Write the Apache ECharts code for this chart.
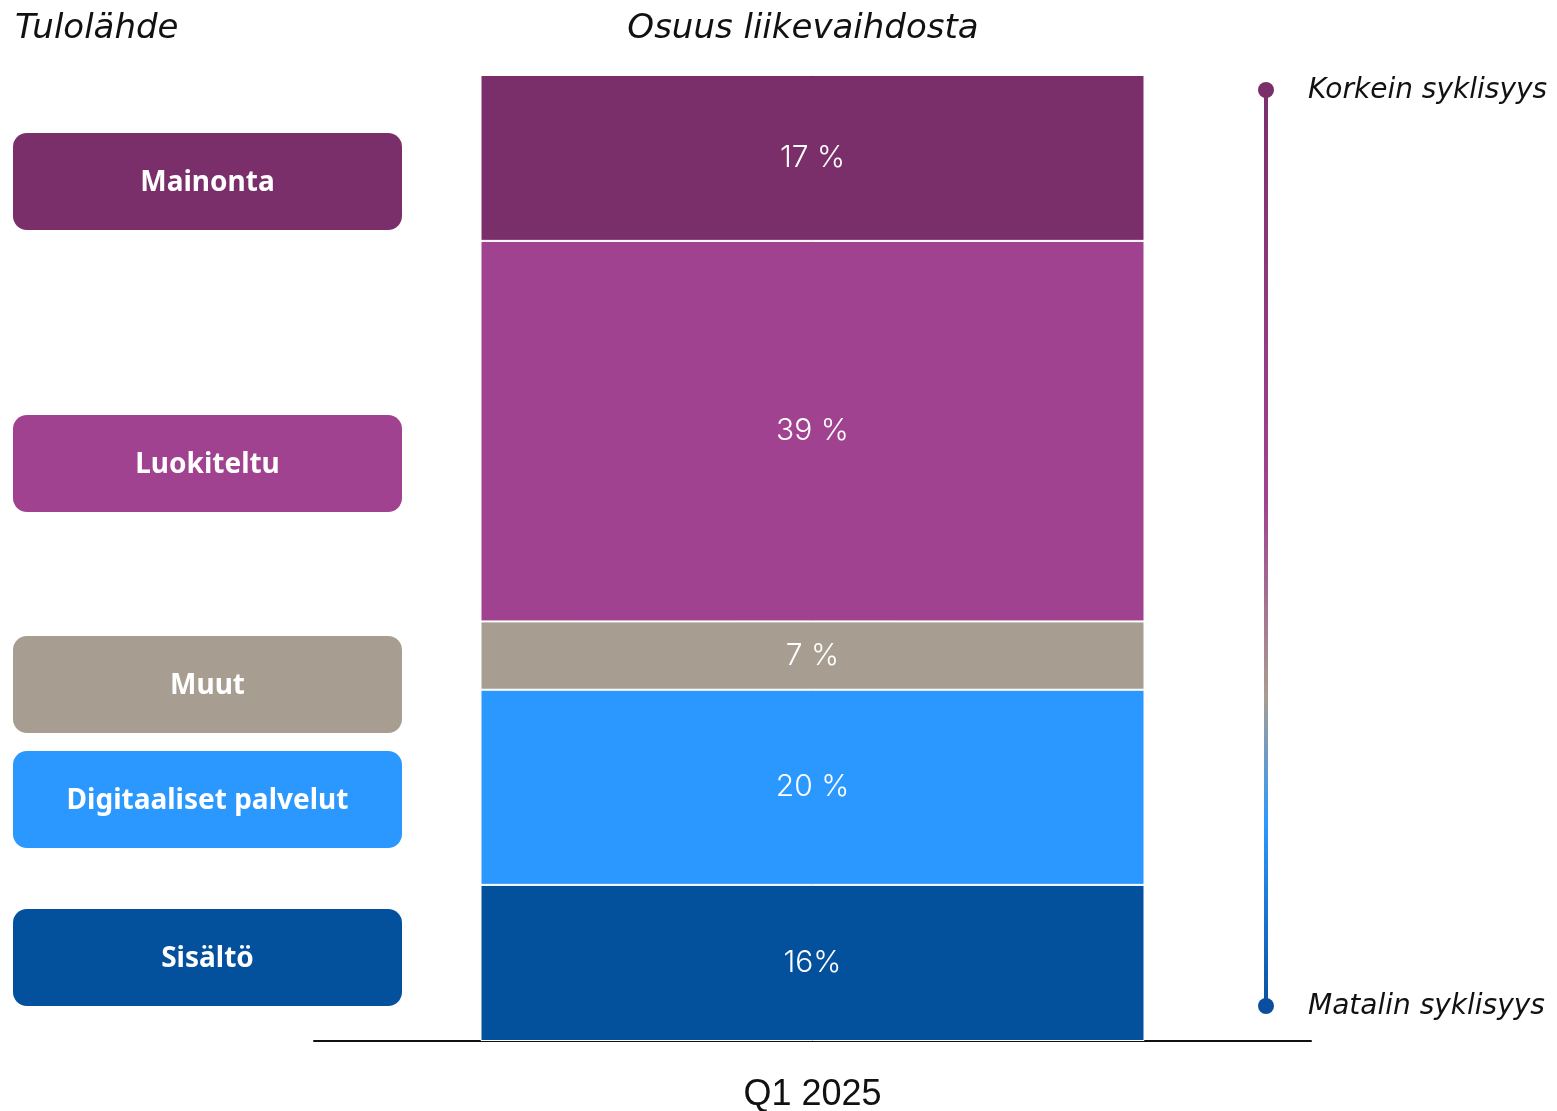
<!DOCTYPE html>
<html>
<head>
<meta charset="utf-8">
<script src="https://cdn.jsdelivr.net/npm/echarts@6/dist/echarts.min.js"></script>
<style>
  html, body { margin: 0; padding: 0; background: #fff; }
  #chart { width: 1557px; height: 1111px; }
</style>
</head>
<body>
<div id="chart"></div>
<script>
// Revenue sources, bottom of the stack first
const sources = ['Sisältö', 'Digitaaliset palvelut', 'Muut', 'Luokiteltu', 'Mainonta'];
const shares = [16, 20, 7, 39, 17];
const shareLabels = ['16%', '20 %', '7 %', '39 %', '17 %'];
const colors = ['#03509c', '#2b98ff', '#a89d91', '#a04290', '#7a2f6b'];
const periods = ['Q1 2025'];

const chart = echarts.init(document.getElementById('chart'));

const total = shares.reduce((a, b) => a + b, 0);

const series = sources.map((name, i) => ({
  name: name,
  type: 'bar',
  stack: 'share',
  barWidth: 664,
  data: [shares[i]],
  itemStyle: { color: colors[i], borderColor: '#ffffff', borderWidth: 1 },
  label: {
    show: true,
    position: 'inside',
    formatter: () => shareLabels[i],
    color: '#ffffff',
    fontFamily: 'Inter',
    fontWeight: 300,
    fontSize: 30
  }
}));

// Source badges on the left (top to bottom)
const badges = [
  { idx: 4, top: 133 },
  { idx: 3, top: 415 },
  { idx: 2, top: 636 },
  { idx: 1, top: 751 },
  { idx: 0, top: 909 }
];
const badgeGraphics = badges.map(b => ({
  type: 'rect',
  left: 13,
  top: b.top,
  shape: { width: 389, height: 97, r: 14 },
  style: { fill: colors[b.idx] },
  textContent: {
    style: {
      text: sources[b.idx],
      fill: '#ffffff',
      fontFamily: 'Noto Sans',
      fontWeight: 'bold',
      fontSize: 28
    }
  },
  textConfig: { position: 'inside', offset: [0, 2] }
}));

// Cyclicality scale on the right
const scaleX = 1266, scaleTop = 90, scaleBottom = 1006;
const italic = { fill: '#111', fontFamily: 'DejaVu Sans', fontStyle: 'italic', fontWeight: 'normal' };
const scaleGraphics = [
  {
    type: 'line',
    shape: { x1: scaleX, y1: scaleTop, x2: scaleX, y2: scaleBottom },
    style: {
      lineWidth: 4,
      stroke: new echarts.graphic.LinearGradient(0, 0, 0, 1, [
        { offset: 0, color: '#7a2f6b' },
        { offset: 0.45, color: '#a04290' },
        { offset: 0.66, color: '#a89d91' },
        { offset: 0.8, color: '#2b98ff' },
        { offset: 1, color: '#0a4f9e' }
      ], false)
    }
  },
  { type: 'circle', shape: { cx: scaleX, cy: scaleTop, r: 8 }, style: { fill: '#7a2f6b' } },
  { type: 'circle', shape: { cx: scaleX, cy: scaleBottom, r: 8 }, style: { fill: '#0a4f9e' } },
  {
    type: 'text', x: 1308, y: scaleTop + 1,
    style: Object.assign({ text: 'Korkein syklisyys', fontSize: 28, verticalAlign: 'middle' }, italic)
  },
  {
    type: 'text', x: 1308, y: scaleBottom + 1,
    style: Object.assign({ text: 'Matalin syklisyys', fontSize: 28, verticalAlign: 'middle' }, italic)
  },
  {
    type: 'text', x: 15, y: 29,
    style: Object.assign({ text: 'Tulolähde', fontSize: 34, verticalAlign: 'middle' }, italic)
  },
  {
    type: 'text', x: 803, y: 29,
    style: Object.assign({ text: 'Osuus liikevaihdosta', fontSize: 34, verticalAlign: 'middle', align: 'center' }, italic)
  }
];

chart.setOption({
  animation: false,
  grid: { left: 314, right: 246, top: 75, bottom: 70, outerBoundsMode: 'none', containLabel: false },
  xAxis: {
    type: 'category',
    data: periods,
    axisLine: { lineStyle: { color: '#111', width: 2 } },
    axisTick: { show: false },
    axisLabel: { color: '#111', fontFamily: 'Liberation Sans', fontSize: 36, margin: 36 }
  },
  yAxis: {
    type: 'value',
    min: 0,
    max: total,
    show: false,
    splitLine: { show: false }
  },
  series: series,
  graphic: badgeGraphics.concat(scaleGraphics)
});
</script>
</body>
</html>
